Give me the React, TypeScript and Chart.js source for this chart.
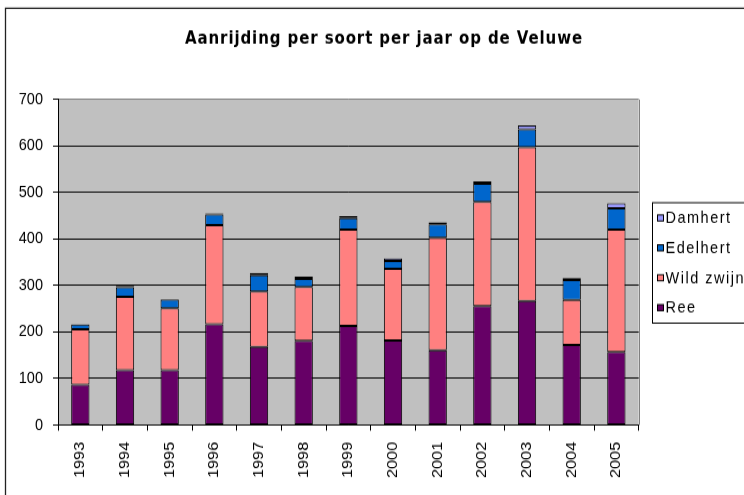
import { useEffect, useRef } from "react";
import { Chart, registerables } from "chart.js";

Chart.register(...registerables);

const years = ["1993", "1994", "1995", "1996", "1997", "1998", "1999", "2000", "2001", "2002", "2003", "2004", "2005"];
const ree = [87, 118, 118, 217, 168, 181, 213, 182, 161, 256, 267, 172, 157];
const wildZwijn = [119, 158, 133, 213, 119, 116, 207, 154, 242, 224, 330, 97, 263];
const edelhert = [10, 20, 19, 23, 35, 17, 25, 17, 29, 39, 39, 43, 46];
const damhert = [1, 3, 1, 2, 5, 5, 4, 5, 4, 5, 8, 4, 11];
const seriesNames = ["Ree", "Wild zwijn", "Edelhert", "Damhert"];
const seriesColors = ["#660066", "#FF8080", "#0066CC", "#9999FF"];
const titleText = "Aanrijding per soort per jaar op de Veluwe";
const yMin = 0;
const yMax = 700;
const yStep = 100;

const W = 744;
const H = 442;

const framePlugin = {
  id: "frame",
  beforeDraw(chart: any) {
    const { ctx, chartArea: a } = chart;
    ctx.save();
    ctx.fillStyle = "#C0C0C0";
    ctx.fillRect(a.left, a.top, a.right - a.left, a.bottom - a.top);
    ctx.restore();
  },
  afterDraw(chart: any) {
    const { ctx, chartArea: a } = chart;
    ctx.save();
    // plot right border
    ctx.strokeStyle = "#808080";
    ctx.lineWidth = 1;
    ctx.beginPath();
    ctx.moveTo(Math.round(a.right) + 0.5, a.top);
    ctx.lineTo(Math.round(a.right) + 0.5, a.bottom);
    ctx.stroke();
    // outer frame
    ctx.strokeStyle = "#222";
    ctx.lineWidth = 1.3;
    ctx.beginPath();
    ctx.moveTo(5.5, H + 5);
    ctx.lineTo(5.5, 7.4);
    ctx.lineTo(W + 5, 7.4);
    ctx.stroke();
    // title
    ctx.fillStyle = "#000";
    ctx.font = "bold 15px 'DejaVu Sans'";
    (ctx as any).letterSpacing = "0.9px";
    ctx.textAlign = "center";
    ctx.textBaseline = "alphabetic";
    ctx.fillText(titleText, 384, 38.7);
    (ctx as any).letterSpacing = "0px";
    // legend
    ctx.strokeStyle = "#000";
    ctx.lineWidth = 1;
    ctx.strokeRect(652.5, 181, 120, 107.5);
    const ds = chart.data.datasets.slice().reverse();
    const ys = [194.6, 221.3, 248.0, 274.7];
    ctx.font = "14.5px 'Liberation Sans', Arial";
    (ctx as any).letterSpacing = "1.5px";
    ctx.textAlign = "left";
    ctx.textBaseline = "middle";
    ds.forEach((d: any, i: number) => {
      const y = ys[i];
      ctx.fillStyle = d.backgroundColor;
      ctx.fillRect(657.5, y - 2.7, 6, 5.4);
      ctx.strokeStyle = "#000";
      ctx.strokeRect(657.5, y - 2.7, 6, 5.4);
      ctx.fillStyle = "#000";
      ctx.fillText(d.label, 665.5, y + 0.5);
    });
    ctx.restore();
  },
};

export default function App() {
  const ref = useRef<HTMLCanvasElement | null>(null);
  useEffect(() => {
    if (!ref.current) return;
    const values = [ree, wildZwijn, edelhert, damhert];
    const chart = new Chart(ref.current, {
      type: "bar",
      data: {
        labels: years,
        datasets: seriesNames.map((name, i) => ({
          label: name,
          data: values[i],
          backgroundColor: seriesColors[i],
          borderColor: "#000",
          borderWidth: 1,
          borderSkipped: false,
          categoryPercentage: 1,
          barPercentage: 0.41,
        })),
      },
      options: {
        responsive: false,
        animation: false,
        devicePixelRatio: 1,
        layout: { padding: { top: 88.85, right: 105.3, left: 0, bottom: 0 } },
        plugins: {
          legend: { display: false },
          title: { display: false },
          tooltip: { enabled: false },
        },
        scales: {
          x: {
            stacked: true,
            afterFit: (s: any) => {
              s.height = H - 379.5;
            },
            grid: {
              display: true,
              drawOnChartArea: false,
              drawTicks: true,
              tickLength: 5,
              color: "#000",
              offset: true,
            },
            border: { display: true, color: "#000", width: 1 },
            ticks: {
              autoSkip: false,
              maxRotation: 90,
              minRotation: 90,
              padding: 10,
              color: "#000",
              font: { family: "'Liberation Sans', Arial", size: 14.5 },
            },
          },
          y: {
            stacked: true,
            min: yMin,
            max: yMax,
            afterFit: (s: any) => {
              s.width = 58;
            },
            grid: {
              color: (c: any) => (c.tick && c.tick.value === yMax ? "#808080" : "#000"),
              tickColor: "#000",
              tickLength: 5,
              lineWidth: 1,
            },
            border: { display: true, color: "#000", width: 1 },
            ticks: {
              stepSize: yStep,
              padding: 10,
              color: "#000",
              font: { family: "'Liberation Sans', Arial", size: 14.5 },
            },
          },
        },
      },
      plugins: [framePlugin],
    });
    return () => chart.destroy();
  }, []);
  return (
    <div style={{ position: "absolute", left: 0, top: 0, width: W, height: 495, overflow: "hidden", background: "#fff" }}>
      <canvas ref={ref} width={W} height={H} style={{ width: `${W}px`, height: "495px", display: "block" }} />
    </div>
  );
}
